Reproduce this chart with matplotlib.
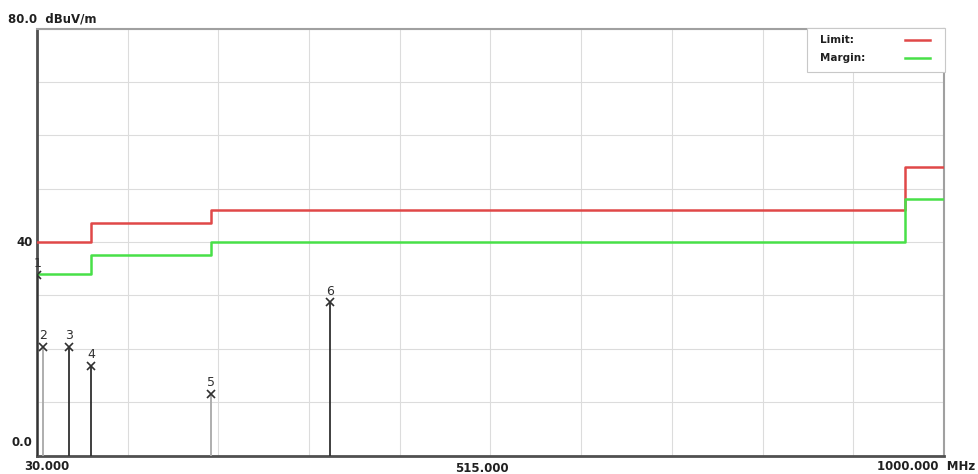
# EMI scan plot: limit / margin step lines with peak markers.
import numpy as np
import matplotlib
matplotlib.use('Agg')
import matplotlib.pyplot as plt

# Data.
limit_freq = [30, 88, 88, 216, 216, 958, 958, 1000]
limit_level = [40, 40, 43.5, 43.5, 46, 46, 54, 54]
margin_level = [34, 34, 37.5, 37.5, 40, 40, 48, 48]

marker_ids = ['1', '2', '3', '4', '5', '6']
marker_freq = [30.5, 36.5, 64.0, 88.0, 216.0, 343.0]
marker_level = [33.8, 20.3, 20.3, 16.8, 11.5, 28.7]
stem_dark = [True, False, True, True, False, True]

fig = plt.figure(figsize=(9.79, 4.74), dpi=100)
ax = fig.add_axes([37 / 979, 18.5 / 474, 907 / 979, 427 / 474])

ax.set_xlim(30, 1000)
ax.set_ylim(0, 80)

# Grid: 10 x-divisions, 8 y-divisions.
ax.set_xticks(np.linspace(30, 1000, 11))
ax.set_yticks(np.linspace(0, 80, 9))
ax.grid(color='#dcdcdc', linewidth=0.8, zorder=0)
ax.tick_params(axis='both', length=0, labelbottom=False, labelleft=False)

for side in ['top', 'right']:
    ax.spines[side].set_color('#a0a0a0')
    ax.spines[side].set_linewidth(1.5)
for side in ['left', 'bottom']:
    ax.spines[side].set_color('#505050')
    ax.spines[side].set_linewidth(2)

# Limit and margin lines.
ax.plot(limit_freq, limit_level, color='#e04848', linewidth=1.8, zorder=3)
ax.plot(limit_freq, margin_level, color='#48e048', linewidth=1.8, zorder=3)

# Peak markers with stems.
for i in range(len(marker_ids)):
    col = '#303030' if stem_dark[i] else '#a8a8a8'
    ax.vlines(marker_freq[i], 0, marker_level[i], color=col, linewidth=1.3, zorder=4)
    ax.plot(marker_freq[i], marker_level[i], marker='x', color='#303030',
            markersize=6, markeredgewidth=1.2, zorder=5)
    ax.text(marker_freq[i], marker_level[i] + 0.9, marker_ids[i],
            ha='center', va='bottom', fontsize=9, color='#303030', zorder=5)

# Legend box in the upper right corner.
box = plt.Rectangle((807 / 979, (474 - 72) / 474), 138 / 979, 44 / 474,
                    transform=fig.transFigure, facecolor='white',
                    edgecolor='#c8c8c8', linewidth=0.8, zorder=6)
fig.patches.append(box)
fig.text(820 / 979, 1 - 40 / 474, 'Limit:', fontsize=7.5, fontweight='bold',
         va='center', color='#202020', zorder=7)
fig.text(820 / 979, 1 - 58 / 474, 'Margin:', fontsize=7.5, fontweight='bold',
         va='center', color='#202020', zorder=7)
fig.lines.append(plt.Line2D([905 / 979, 930 / 979], [1 - 40 / 474] * 2,
                            transform=fig.transFigure, color='#e04848',
                            linewidth=1.8, zorder=7))
fig.lines.append(plt.Line2D([905 / 979, 930 / 979], [1 - 58 / 474] * 2,
                            transform=fig.transFigure, color='#48e048',
                            linewidth=1.8, zorder=7))

# Axis annotations in the instrument style.
lab = dict(fontsize=8.5, fontweight='bold', color='#202020')
fig.text(8 / 979, 1 - 19 / 474, '80.0  dBuV/m', va='center', **lab)
fig.text(33 / 979, 1 - 242 / 474, '40', va='center', ha='right', **lab)
fig.text(32 / 979, 1 - 443 / 474, '0.0', va='center', ha='right', **lab)
fig.text(47 / 979, 1 - 466 / 474, '30.000', va='center', ha='center', **lab)
fig.text(482 / 979, 1 - 468 / 474, '515.000', va='center', ha='center', **lab)
fig.text(975 / 979, 1 - 466 / 474, '1000.000  MHz', va='center', ha='right', **lab)

fig.savefig('out.png', dpi=100, facecolor='white')
